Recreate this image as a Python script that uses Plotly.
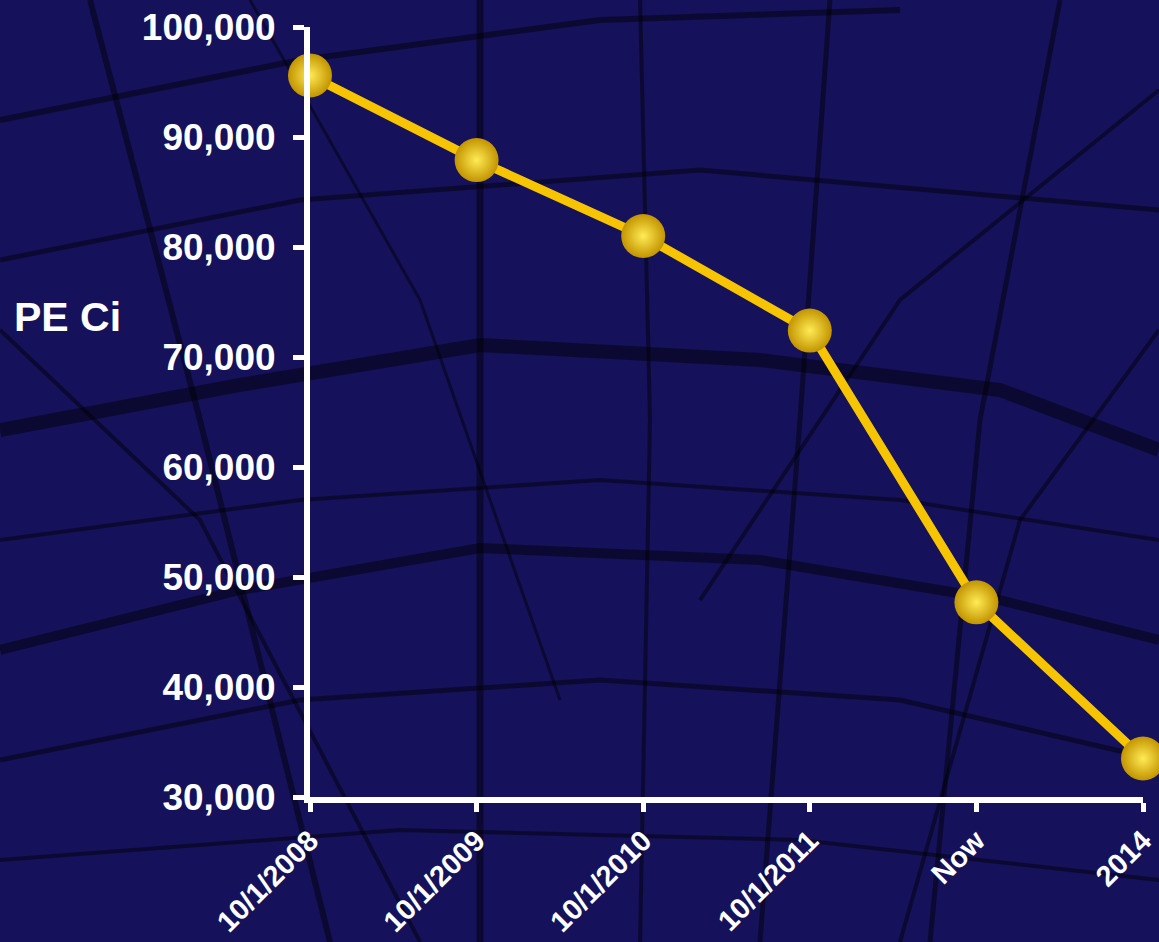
import plotly.graph_objects as go

# ---- data ----
categories = ["10/1/2008", "10/1/2009", "10/1/2010", "10/1/2011", "Now", "2014"]
pe_ci = [95600, 87900, 81000, 72400, 47700, 33500]
y_ticks = [30000, 40000, 50000, 60000, 70000, 80000, 90000, 100000]
y_tick_labels = ["30,000", "40,000", "50,000", "60,000", "70,000", "80,000", "90,000", "100,000"]

W, H = 1159, 942
L, R, T, B = 310, 16, 27, 145
PW, PH = W - L - R, H - T - B

FONT = "Arial, 'Liberation Sans', Helvetica, sans-serif"
BG = "#15115a"

fig = go.Figure()
fig.add_trace(go.Scatter(
    x=categories, y=pe_ci, mode="lines+markers",
    line=dict(color="#f6c400", width=9),
    marker=dict(size=44, color="#c29400",
                gradient=dict(type="radial", color="#ffeb55"),
                line=dict(width=0)),
    cliponaxis=False, showlegend=False,
))

# decorative roof-structure lines (background photo approximation), pixel -> paper
def px(x, y):
    return (x - L) / PW, (H - B - y) / PH

deco = [
    ([(0, 430), (240, 385), (480, 345), (760, 360), (1000, 390), (1159, 450)], 14),
    ([(0, 650), (240, 590), (480, 548), (760, 560), (1000, 600), (1159, 640)], 10),
    ([(0, 120), (300, 60), (600, 20), (900, 10)], 6),
    ([(0, 260), (300, 200), (700, 170), (1159, 210)], 5),
    ([(480, 0), (480, 942)], 7),
    ([(90, 0), (200, 420), (330, 942)], 6),
    ([(830, 0), (800, 420), (760, 942)], 5),
    ([(1060, 0), (980, 420), (930, 942)], 5),
    ([(0, 540), (300, 500), (600, 480), (900, 500), (1159, 540)], 4),
    ([(0, 760), (300, 700), (600, 680), (900, 700), (1159, 760)], 5),
    ([(0, 860), (400, 830), (800, 840), (1159, 880)], 4),
    ([(640, 0), (650, 420), (640, 942)], 4),
    ([(0, 330), (200, 520), (420, 942)], 4),
    ([(1159, 90), (900, 300), (700, 600)], 4),
    ([(250, 0), (420, 300), (560, 700)], 3),
    ([(1159, 330), (1020, 520), (900, 942)], 4),
]
shapes = []
for pts, w in deco:
    p = [px(a, b) for a, b in pts]
    path = "M " + " L ".join(f"{a:.4f},{b:.4f}" for a, b in p)
    shapes.append(dict(type="path", path=path, xref="paper", yref="paper",
                       line=dict(color="rgba(0,0,0,0.45)", width=w), layer="below"))

fig.update_layout(
    width=W, height=H,
    margin=dict(l=L, r=R, t=T, b=B, pad=0, autoexpand=False),
    paper_bgcolor=BG, plot_bgcolor="rgba(0,0,0,0)",
    font=dict(family=FONT, color="white"),
    shapes=shapes,
    xaxis=dict(
        type="category", range=[0, len(categories) - 1], automargin=False,
        showgrid=False, zeroline=False,
        showline=True, linecolor="white", linewidth=6,
        ticks="outside", ticklen=9, tickwidth=5, tickcolor="white",
        tickangle=-45, tickfont=dict(size=29, color="white", family=FONT, weight="bold"),
    ),
    yaxis=dict(
        range=[30000, 100000], tickvals=y_ticks, ticktext=y_tick_labels, automargin=False,
        showgrid=False, zeroline=False,
        showline=True, linecolor="white", linewidth=6,
        ticks="outside", ticklen=11, tickwidth=5, tickcolor="white",
        ticklabelstandoff=10,
        tickfont=dict(size=37, color="white", family=FONT, weight="bold"),
    ),
    annotations=[dict(
        text="<b>PE Ci</b>", xref="paper", yref="paper",
        x=px(67, 317)[0], y=px(67, 317)[1], xanchor="center", yanchor="middle",
        showarrow=False, font=dict(size=41, color="white", family=FONT),
    )],
)

fig.write_html("out.html", config={"displayModeBar": False},
               post_script="document.body.style.margin='0';document.body.style.overflow='hidden';")
